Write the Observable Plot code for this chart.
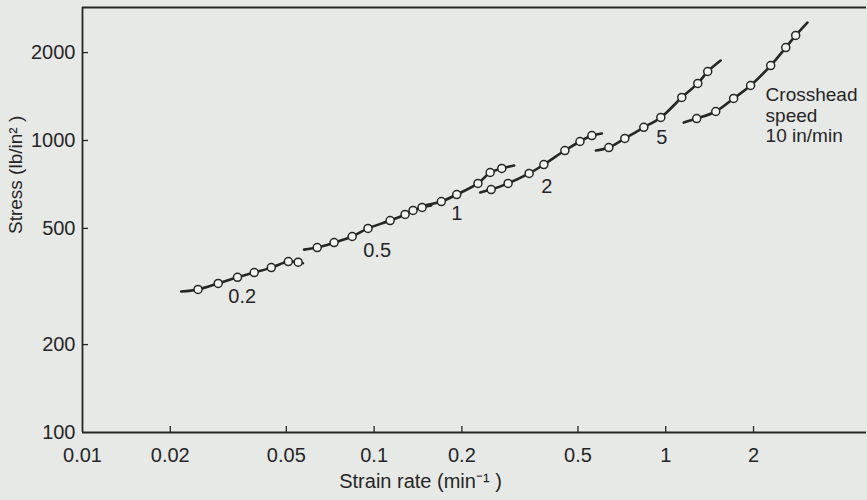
<!DOCTYPE html>
<html><head><meta charset="utf-8">
<script src="https://cdn.jsdelivr.net/npm/d3@7"></script>
<script src="https://cdn.jsdelivr.net/npm/@observablehq/plot@0.6"></script>
<style>
html,body{margin:0;padding:0;background:#e6e9e6;}
#chart svg{display:block;}
</style>
</head><body><div id="chart"></div>
<script>
// Axis ticks and domains (log-log)
const xTicks = [0.01, 0.02, 0.05, 0.1, 0.2, 0.5, 1, 2];
const yTicks = [100, 200, 500, 1000, 2000];
const xDomain = [0.01, 4.88];
const yDomain = [100, 2854];

// Series: first and last entries are the curve ends; the rest are measured points (circles)
const speeds = ["0.2", "0.5", "1", "2", "5", "10"];
const rate02   = [0.0218, 0.0249, 0.0292, 0.0340, 0.0388, 0.0444, 0.0508, 0.0549, 0.0570];
const stress02 = [304, 309, 324, 340, 353, 367, 385, 383, 380];
const rate05   = [0.0575, 0.0638, 0.0729, 0.0841, 0.0953, 0.1135, 0.1277, 0.136, 0.146, 0.157];
const stress05 = [423, 430, 447, 469, 500, 532, 558, 576, 590, 599];
const rate1    = [0.150, 0.170, 0.192, 0.227, 0.250, 0.274, 0.302];
const stress1  = [600, 618, 653, 713, 777, 802, 821];
const rate2    = [0.231, 0.252, 0.288, 0.340, 0.382, 0.451, 0.508, 0.558, 0.604];
const stress2  = [664, 679, 713, 771, 827, 924, 992, 1040, 1057];
const rate5    = [0.576, 0.638, 0.724, 0.841, 0.962, 1.135, 1.288, 1.393, 1.543];
const stress5  = [924, 946, 1016, 1109, 1199, 1404, 1568, 1723, 1879];
const rate10   = [1.153, 1.277, 1.484, 1.709, 1.954, 2.29, 2.58, 2.79, 3.06];
const stress10 = [1152, 1189, 1257, 1393, 1543, 1806, 2081, 2290, 2535];

// Curve labels
const labelText   = ["0.2", "0.5", "1", "2", "5", "Crosshead\nspeed\n10 in/min"];
const labelRate   = [0.0353, 0.1024, 0.192, 0.391, 0.969, 2.20];
const labelStress = [292, 420, 562, 696, 1024, 1531];

const rateSets = [rate02, rate05, rate1, rate2, rate5, rate10];
const stressSets = [stress02, stress05, stress1, stress2, stress5, stress10];

const rows = [];
speeds.forEach((s, k) => {
  const xs = rateSets[k], ys = stressSets[k];
  xs.forEach((x, i) => rows.push({speed: s, rate: x, stress: ys[i], end: i === 0 || i === xs.length - 1}));
});
const labels = labelText.map((t, i) => ({text: t, rate: labelRate[i], stress: labelStress[i], multi: t.includes("\n")}));

const ink = "#262626";
const W = 867, H = 500, mL = 82, mR = 1, mT = 7, mB = 68;

const chart = Plot.plot({
  width: W, height: H,
  marginLeft: mL, marginRight: mR, marginTop: mT, marginBottom: mB,
  style: {background: "#e6e9e6", color: ink, fontFamily: "'Liberation Sans', Arial, sans-serif", fontSize: "20px"},
  x: {type: "log", domain: xDomain, axis: null},
  y: {type: "log", domain: yDomain, axis: null},
  marks: [
    Plot.ruleX([xDomain[0]], {stroke: ink, strokeWidth: 1.8}),
    Plot.ruleY(yDomain, {stroke: ink, strokeWidth: 1.8}),
    Plot.tickX(xTicks.slice(1), {x: d => d, insetTop: H - mT - mB - 6, stroke: ink, strokeWidth: 1.3}),
    Plot.tickY(yTicks.slice(1), {y: d => d, insetRight: W - mL - mR - 6, stroke: ink, strokeWidth: 1.3}),
    Plot.text(xTicks, {x: d => d, frameAnchor: "bottom", lineAnchor: "top", dy: 15, text: d => String(d), fontSize: 20, fill: ink}),
    Plot.text(yTicks, {y: d => d, frameAnchor: "left", textAnchor: "end", dx: -7, text: d => String(d), fontSize: 20, fill: ink}),
    Plot.text(["Strain rate (min\u207B\u00B9 )"], {frameAnchor: "bottom", dx: -54, dy: 55, fontSize: 20, fill: ink}),
    Plot.text(["Stress (lb/in\u00B2 )"], {frameAnchor: "left", rotate: -90, dx: -67, dy: 14, fontSize: 19, fill: ink}),
    Plot.line(rows, {x: "rate", y: "stress", z: "speed", stroke: ink, strokeWidth: 2.6, curve: "catmull-rom"}),
    Plot.dot(rows.filter(d => !d.end), {x: "rate", y: "stress", r: 4, fill: "#f3f5f3", stroke: ink, strokeWidth: 1.5}),
    Plot.text(labels.filter(d => !d.multi), {x: "rate", y: "stress", text: "text", fontSize: 20, fill: ink}),
    Plot.text(labels.filter(d => d.multi), {x: "rate", y: "stress", text: "text", fontSize: 19, fill: ink, textAnchor: "start", lineAnchor: "top", lineHeight: 1.08})
  ]
});
document.getElementById("chart").append(chart);
</script>
</body></html>
